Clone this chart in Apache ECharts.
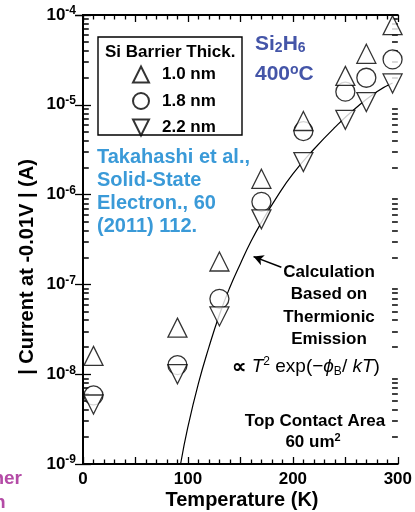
<!DOCTYPE html>
<html>
<head>
<meta charset="utf-8">
<script src="https://cdn.jsdelivr.net/npm/echarts@6/dist/echarts.min.js"></script>
<style>
html,body{margin:0;padding:0;background:#fff;}
#chart{width:415px;height:512px;}
</style>
</head>
<body>
<div id="chart"></div>
<script>
// ---- data ----
const temps = [10, 90, 130, 170, 210, 250, 270, 295];
const current10nm = [1.6e-8, 3.3e-8, 1.8e-7, 1.5e-6, 6.6e-6, 2.1e-5, 3.7e-5, 7.7e-5];
const current18nm = [5.8e-9, 1.26e-8, 6.9e-8, 8.3e-7, 5.1e-6, 1.4e-5, 2.0e-5, 3.2e-5];
const current22nm = [4.6e-9, 1.0e-8, 4.4e-8, 5.3e-7, 2.3e-6, 6.8e-6, 1.07e-5, 1.73e-5];

const calcTemps = [93, 100, 110, 120, 130, 140, 150, 160, 170, 185, 200, 220, 240, 260, 280, 295];
const calcCurrent = [1.0e-9, 2.6e-9, 7.9e-9, 2.0e-8, 4.6e-8, 9.3e-8, 1.7e-7, 3.0e-7, 4.9e-7, 9.5e-7, 1.7e-6, 3.2e-6, 5.6e-6, 9.2e-6, 1.4e-5, 1.75e-5];

const seriesNames = ['1.0 nm', '1.8 nm', '2.2 nm'];
const xTickLabels = ['0', '100', '200', '300'];
const yDecades = [-9, -8, -7, -6, -5, -4];
const minorMantissas = [2, 3, 4, 5, 6, 7, 8, 9];
const arrowFrom = [189, 1.55e-7];
const arrowTo = [162.5, 2.04e-7];

// ---- build ----
const FONT = 'Liberation Sans, Arial, Helvetica, sans-serif';
const X_MIN = 0, X_MAX = 300, MINOR_LEN = 5.5; // minor tick length in x-axis units (~5-6px)
const yMinorVals = [];
yDecades.slice(0, -1).forEach(e => minorMantissas.forEach(m => yMinorVals.push(m * Math.pow(10, e))));
const minorTickLines = [];
yMinorVals.forEach(v => {
  minorTickLines.push([{coord: [X_MIN, v]}, {coord: [X_MIN + MINOR_LEN, v]}]);
  minorTickLines.push([{coord: [X_MAX - MINOR_LEN, v]}, {coord: [X_MAX, v]}]);
});
const zip = (xs, ys) => xs.map((x, i) => [x, ys[i]]);

const markerStyle = {color: '#fff', borderColor: '#000', borderWidth: 1.3};
const downTri = 'path://M0,0 L10,0 L5,10 Z';

const chart = echarts.init(document.getElementById('chart'));
const option = {
  backgroundColor: '#fff',
  animation: false,
  grid: {left: 83, right: 17, top: 15, bottom: 48},
  xAxis: [{
    type: 'value', min: X_MIN, max: X_MAX, interval: 50, position: 'bottom',
    axisLine: {lineStyle: {color: '#000', width: 2}},
    axisTick: {inside: true, length: 7, lineStyle: {color: '#000', width: 1.3}},
    minorTick: {show: true, splitNumber: 5, length: 4.5, lineStyle: {color: '#000', width: 1.3}},
    splitLine: {show: false},
    axisLabel: {
      margin: 7, color: '#000', fontSize: 17, fontWeight: 'bold', fontFamily: FONT,
      formatter: v => xTickLabels.indexOf(String(v)) >= 0 ? String(v) : ''
    }
  }, {
    type: 'value', min: X_MIN, max: X_MAX, interval: 50, position: 'top',
    axisLine: {lineStyle: {color: '#000', width: 2}},
    axisTick: {inside: true, length: 7, lineStyle: {color: '#000', width: 1.3}},
    minorTick: {show: true, splitNumber: 5, length: 4.5, lineStyle: {color: '#000', width: 1.3}},
    splitLine: {show: false},
    axisLabel: {show: false}
  }],
  yAxis: [{
    type: 'log', logBase: 10, min: 1e-9, max: 1e-4, position: 'left',
    axisLine: {lineStyle: {color: '#000', width: 2}},
    axisTick: {inside: true, length: 8, lineStyle: {color: '#000', width: 1.3}},
    splitLine: {show: false},
    axisLabel: {
      margin: 7, color: '#000', fontFamily: FONT,
      formatter: v => '{b|10}{s|' + Math.round(Math.log10(v)) + '}',
      rich: {
        b: {fontSize: 17, fontWeight: 'bold', fontFamily: FONT, color: '#000', lineHeight: 20},
        s: {fontSize: 12, fontWeight: 'bold', fontFamily: FONT, color: '#000', verticalAlign: 'top', lineHeight: 12}
      }
    }
  }, {
    type: 'log', logBase: 10, min: 1e-9, max: 1e-4, position: 'right',
    axisLine: {lineStyle: {color: '#000', width: 2}},
    axisTick: {inside: true, length: 8, lineStyle: {color: '#000', width: 1.3}},
    splitLine: {show: false},
    axisLabel: {show: false}
  }],
  legend: {
    orient: 'vertical', left: 132, top: 65.5, itemWidth: 16, itemHeight: 16, itemGap: 8.5,
    data: seriesNames, selectedMode: false, padding: 0,
    formatter: n => '{t|' + n + '}',
    textStyle: {
      color: '#000', fontSize: 17, fontWeight: 'bold', fontFamily: FONT, lineHeight: 16,
      rich: {t: {padding: [0, 0, 0, 8], fontSize: 17, fontWeight: 'bold', fontFamily: FONT, color: '#000', lineHeight: 16}}
    }
  },
  series: [{
    type: 'line', name: 'calc', data: zip(calcTemps, calcCurrent), showSymbol: false, symbol: 'none',
    smooth: true, silent: true, z: 2, clip: true,
    lineStyle: {color: '#000', width: 1.2},
    markLine: {
      silent: true, symbol: ['none', 'arrow'], symbolSize: [8, 10],
      lineStyle: {color: '#000', width: 1.5, type: 'solid'},
      label: {show: false},
      data: [[{coord: arrowFrom}, {coord: arrowTo}]]
    }
  }, {
    type: 'scatter', name: seriesNames[1], data: zip(temps, current18nm), symbol: 'circle', symbolSize: 19,
    itemStyle: markerStyle, z: 3, clip: false,
    markLine: {
      silent: true, symbol: ['none', 'none'], z: 1,
      lineStyle: {color: '#000', width: 1.5, type: 'solid', opacity: 1},
      label: {show: false}, emphasis: {disabled: true},
      data: minorTickLines
    }
  }, {
    type: 'scatter', name: seriesNames[0], data: zip(temps, current10nm), symbol: 'triangle', symbolSize: 19,
    itemStyle: markerStyle, z: 3, clip: false
  }, {
    type: 'scatter', name: seriesNames[2], data: zip(temps, current22nm), symbol: downTri, symbolSize: 19,
    itemStyle: markerStyle, z: 3, clip: false
  }],
  graphic: [
    {type: 'text', x: 27, y: 267, rotation: Math.PI / 2,
     style: {text: '| Current at -0.01V | (A)', font: 'bold 20px ' + FONT, fill: '#000', align: 'center', verticalAlign: 'middle'}},
    {type: 'text', x: 242, y: 500,
     style: {text: 'Temperature (K)', font: 'bold 20px ' + FONT, fill: '#000', align: 'center', verticalAlign: 'middle'}},
    {type: 'rect', shape: {x: 98, y: 37, width: 144, height: 98}, style: {fill: 'none', stroke: '#000', lineWidth: 1.4}},
    {type: 'text', x: 105, y: 52,
     style: {text: 'Si Barrier Thick.', font: 'bold 17px ' + FONT, fill: '#000', align: 'left', verticalAlign: 'middle'}},
    {type: 'text', x: 255, y: 44,
     style: {text: '{n|Si}{s|2}{n|H}{s|6}', align: 'left', verticalAlign: 'middle',
       rich: {n: {fontSize: 21, fontWeight: 'bold', fontFamily: FONT, fill: '#4455a8', lineHeight: 22},
              s: {fontSize: 14, fontWeight: 'bold', fontFamily: FONT, fill: '#4455a8', verticalAlign: 'bottom', lineHeight: 13}}}},
    {type: 'text', x: 255, y: 74,
     style: {text: '{n|400}{p|o}{n|C}', align: 'left', verticalAlign: 'middle',
       rich: {n: {fontSize: 21, fontWeight: 'bold', fontFamily: FONT, fill: '#4455a8', lineHeight: 22},
              p: {fontSize: 14, fontWeight: 'bold', fontFamily: FONT, fill: '#4455a8', verticalAlign: 'top', lineHeight: 13}}}},
    {type: 'text', x: 97, y: 145.5,
     style: {text: 'Takahashi et al.,\nSolid-State\nElectron., 60\n(2011) 112.', font: 'bold 20px ' + FONT,
       fill: '#3a9ad8', align: 'left', verticalAlign: 'top', lineHeight: 23}},
    {type: 'text', x: 329, y: 261,
     style: {text: 'Calculation\nBased on\nThermionic\nEmission', font: 'bold 17px ' + FONT,
       fill: '#000', align: 'center', verticalAlign: 'top', lineHeight: 22.5}},
    {type: 'text', x: 306, y: 367,
     style: {text: '{b|\u221D }{i|T}{p|2}{a| exp(\u2212}{i|\u03D5}{s|B}{a|/ }{i|kT}{a|)}', align: 'center', verticalAlign: 'middle',
       rich: {a: {fontSize: 19, fontFamily: FONT, fill: '#000', lineHeight: 22},
              b: {fontSize: 20, fontWeight: 'bold', fontFamily: FONT, fill: '#000', lineHeight: 22},
              i: {fontSize: 19, fontStyle: 'italic', fontFamily: FONT, fill: '#000', lineHeight: 22},
              p: {fontSize: 12, fontFamily: FONT, fill: '#000', verticalAlign: 'top', lineHeight: 12},
              s: {fontSize: 12, fontFamily: FONT, fill: '#000', verticalAlign: 'bottom', lineHeight: 12}}}},
    {type: 'text', x: 315, y: 421,
     style: {text: 'Top Contact Area', font: 'bold 17px ' + FONT, fill: '#000', align: 'center', verticalAlign: 'middle'}},
    {type: 'text', x: 313, y: 442,
     style: {text: '{n|60 um}{p|2}', align: 'center', verticalAlign: 'middle',
       rich: {n: {fontSize: 17, fontWeight: 'bold', fontFamily: FONT, fill: '#000', lineHeight: 20},
              p: {fontSize: 11, fontWeight: 'bold', fontFamily: FONT, fill: '#000', verticalAlign: 'top', lineHeight: 11}}}},
    {type: 'text', x: 22, y: 479,
     style: {text: 'ner', font: 'bold 19px ' + FONT, fill: '#b44ba6', align: 'right', verticalAlign: 'middle'}},
    {type: 'text', x: -6, y: 503,
     style: {text: 'n', font: 'bold 19px ' + FONT, fill: '#b44ba6', align: 'left', verticalAlign: 'middle'}}
  ]
};
chart.setOption(option);
</script>
</body>
</html>
